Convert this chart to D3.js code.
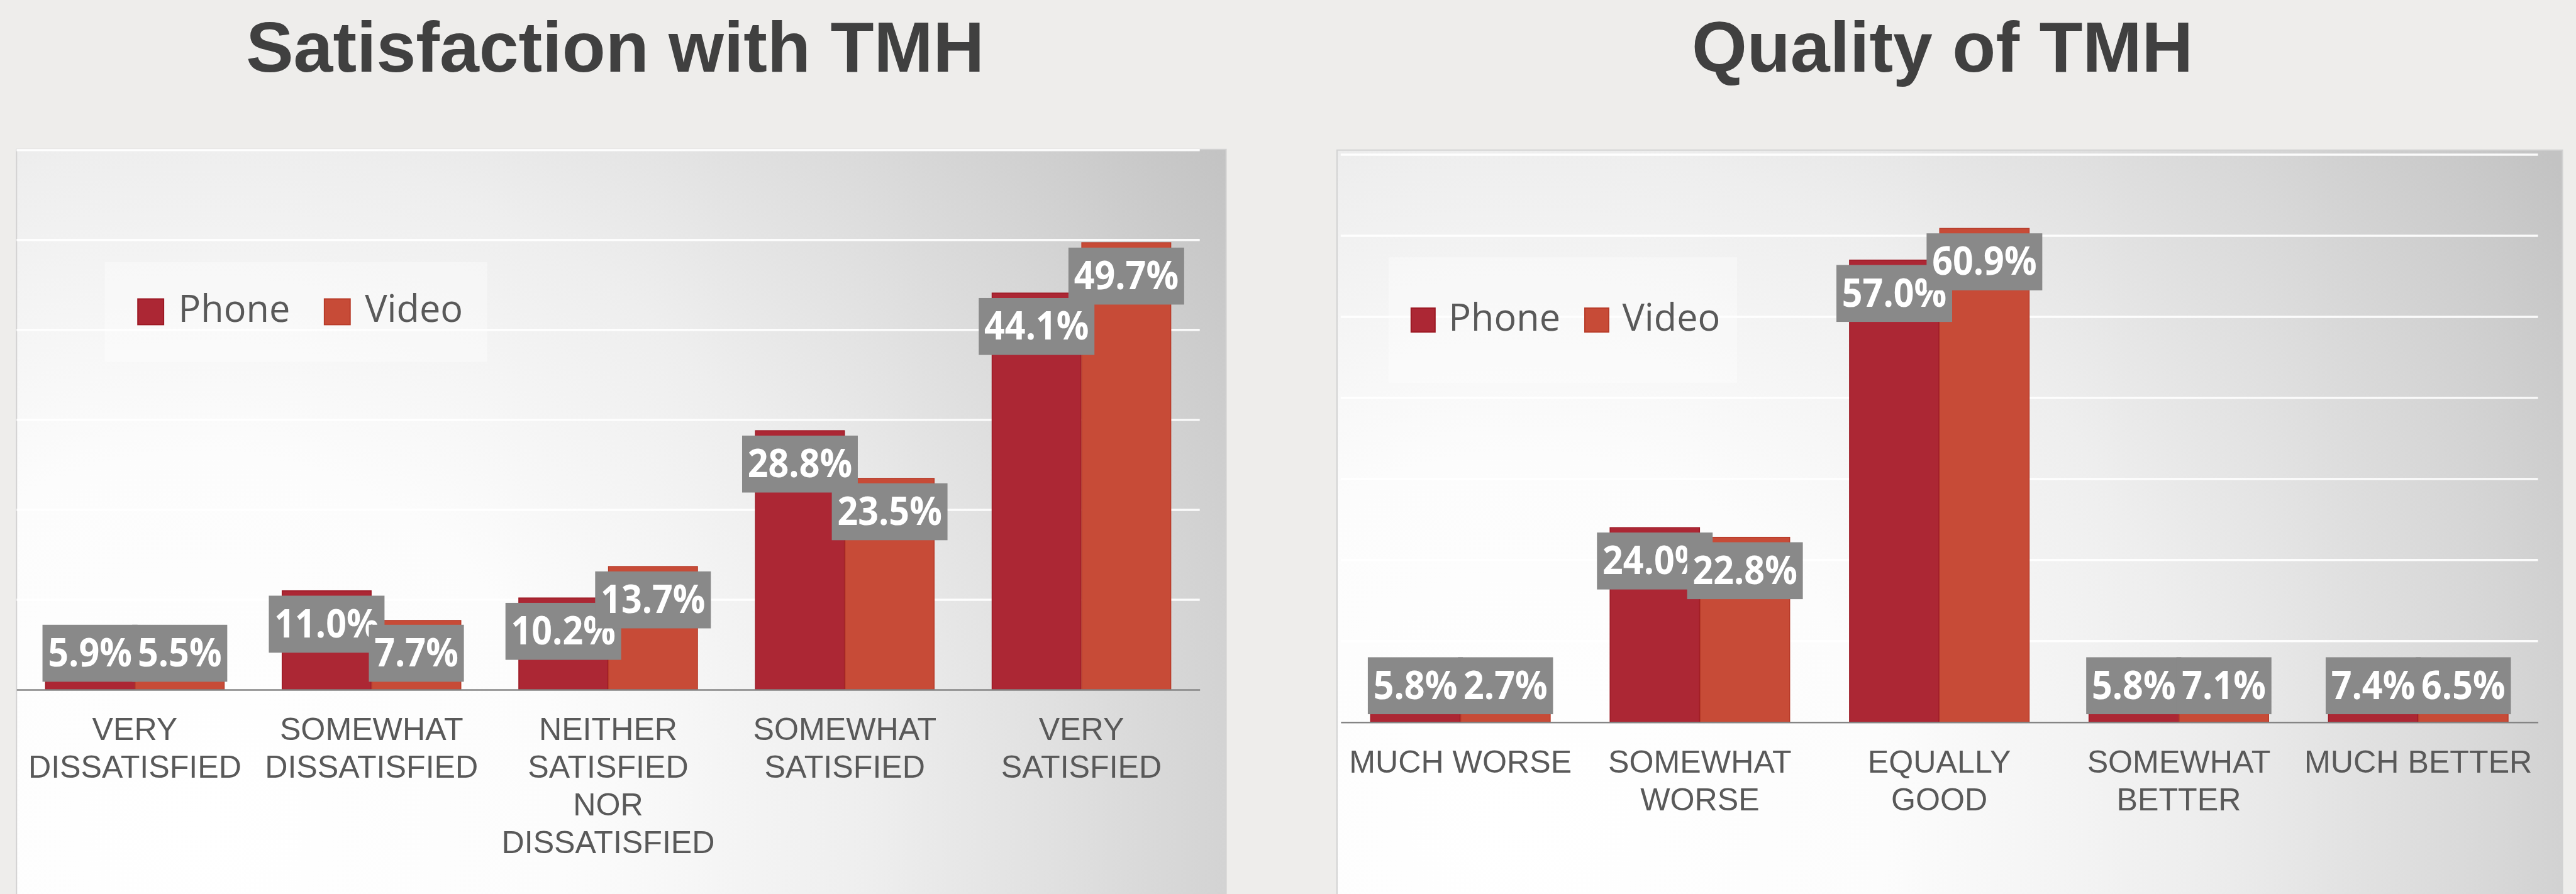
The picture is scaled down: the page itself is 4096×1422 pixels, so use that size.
<!DOCTYPE html>
<html>
<head>
<meta charset="utf-8">
<script src="https://cdn.jsdelivr.net/npm/d3@7"></script>
<style>
  html, body { margin: 0; padding: 0; background: #EEEDEB; overflow: hidden; }
  svg { display: block; }
</style>
</head>
<body>
<svg id="chart" width="4096" height="1422"></svg>
<script>
// ---- Data ----------------------------------------------------------------
const seriesNames = ["Phone", "Video"];

const satisfactionCategories = [
  "VERY\nDISSATISFIED",
  "SOMEWHAT\nDISSATISFIED",
  "NEITHER\nSATISFIED\nNOR\nDISSATISFIED",
  "SOMEWHAT\nSATISFIED",
  "VERY\nSATISFIED"
];
const satisfactionPhone = [5.9, 11.0, 10.2, 28.8, 44.1];
const satisfactionVideo = [5.5, 7.7, 13.7, 23.5, 49.7];
const satisfactionTicks = [0, 10, 20, 30, 40, 50, 60];

const qualityCategories = [
  "MUCH WORSE",
  "SOMEWHAT\nWORSE",
  "EQUALLY\nGOOD",
  "SOMEWHAT\nBETTER",
  "MUCH BETTER"
];
const qualityPhone = [5.8, 24.0, 57.0, 5.8, 7.4];
const qualityVideo = [2.7, 22.8, 60.9, 7.1, 6.5];
const qualityTicks = [0, 10, 20, 30, 40, 50, 60, 70];

// ---- Styling -------------------------------------------------------------
const seriesFill   = { Phone: "#AC2734", Video: "#C74B37" };
const seriesStroke = { Phone: "#9C1823", Video: "#B83B29" };
const textGray = "#595959";
const labelFont = "'Liberation Sans', Arial, sans-serif";
const legendFont = "'Open Sans', 'Noto Sans', sans-serif";
const fmt = d3.format(".1f");

const W = 4204, H = 1459;
const svg = d3.select("#chart");
const defs = svg.append("defs");
const root = svg.append("g").attr("transform", `scale(${4096 / W})`);

root.append("rect").attr("width", W).attr("height", H).attr("fill", "#EEEDEB");

const panels = [
  {
    id: "sat",
    title: "Satisfaction with TMH",
    categories: satisfactionCategories,
    phone: satisfactionPhone,
    video: satisfactionVideo,
    ticks: satisfactionTicks,
    frame: { x: 27, y: 244, w: 1974, h: 1230 },
    plot: { x0: 27, x1: 1958, top: 245, base: 1126 },
    groupPad: 0.245,
    titleX: 1004,
    legend: { x: 171, y: 428, w: 624, h: 163, sw: 42, swY: 488, textY: 526, startX: 225, textGap: 24, itemGap: 56 }
  },
  {
    id: "qual",
    title: "Quality of TMH",
    categories: qualityCategories,
    phone: qualityPhone,
    video: qualityVideo,
    ticks: qualityTicks,
    frame: { x: 2182, y: 245, w: 2000, h: 1230 },
    plot: { x0: 2188, x1: 4142, top: 252.5, base: 1179 },
    groupPad: 0.25,
    titleX: 3170,
    legend: { x: 2266, y: 420, w: 569, h: 205, sw: 39, swY: 503, textY: 540, startX: 2303, textGap: 22, itemGap: 40 }
  }
];

panels.forEach(drawPanel);

function drawPanel(p) {
  const g = root.append("g").attr("class", "panel-" + p.id);
  const f = p.frame;

  // soft radial shading of the chart card: white low-left, grey toward the right
  const grad = defs.append("radialGradient")
    .attr("id", "bg-" + p.id)
    .attr("gradientUnits", "userSpaceOnUse")
    .attr("cx", f.x + 0.15 * f.w).attr("cy", f.y + 0.9 * 1215)
    .attr("r", 2000);
  [[0, "#FFFFFF"], [0.3, "#FCFCFC"], [0.55, "#EEEEEE"], [0.8, "#D7D7D7"], [1, "#C3C3C3"]]
    .forEach(([o, c]) => grad.append("stop").attr("offset", o).attr("stop-color", c));

  // title
  g.append("text")
    .attr("x", p.titleX).attr("y", 117)
    .attr("text-anchor", "middle")
    .attr("font-family", labelFont)
    .attr("font-weight", "bold")
    .attr("font-size", 116)
    .attr("fill", "#404040")
    .text(p.title);

  // card
  g.append("rect")
    .attr("x", f.x).attr("y", f.y).attr("width", f.w).attr("height", f.h)
    .attr("fill", `url(#bg-${p.id})`)
    .attr("stroke", "#D2D2D2").attr("stroke-width", 2);

  // scales
  const x0 = d3.scaleBand()
    .domain(p.categories)
    .range([p.plot.x0, p.plot.x1])
    .paddingInner(p.groupPad)
    .paddingOuter(p.groupPad / 2);
  const x1 = d3.scaleBand()
    .domain(seriesNames)
    .range([0, x0.bandwidth()])
    .paddingInner(0.008);
  const y = d3.scaleLinear()
    .domain([0, d3.max(p.ticks)])
    .range([p.plot.base, p.plot.top]);

  // gridlines
  g.append("g").selectAll("line")
    .data(p.ticks.filter(t => t > 0))
    .join("line")
    .attr("x1", p.plot.x0).attr("x2", p.plot.x1)
    .attr("y1", d => y(d)).attr("y2", d => y(d))
    .attr("stroke", "#FFFFFF").attr("stroke-opacity", 0.9).attr("stroke-width", 3.5);

  // legend
  const L = p.legend;
  g.append("rect")
    .attr("x", L.x).attr("y", L.y).attr("width", L.w).attr("height", L.h)
    .attr("fill", "#FFFFFF").attr("fill-opacity", 0.35);
  let lx = L.startX;
  seriesNames.forEach(name => {
    g.append("rect")
      .attr("x", lx).attr("y", L.swY).attr("width", L.sw).attr("height", L.sw)
      .attr("fill", seriesFill[name]).attr("stroke", seriesStroke[name]).attr("stroke-width", 2);
    const t = g.append("text")
      .attr("x", lx + L.sw + L.textGap).attr("y", L.textY)
      .attr("font-family", legendFont).attr("font-size", 61)
      .attr("fill", textGray)
      .text(name);
    lx = lx + L.sw + L.textGap + t.node().getComputedTextLength() + L.itemGap;
  });

  // bars
  const rows = p.categories.map((c, i) => ({ cat: c, Phone: p.phone[i], Video: p.video[i] }));
  const groups = g.append("g").selectAll("g")
    .data(rows)
    .join("g")
    .attr("transform", d => `translate(${x0(d.cat)},0)`);
  groups.selectAll("rect")
    .data(d => seriesNames.map(s => ({ s, v: d[s] })))
    .join("rect")
    .attr("x", d => x1(d.s))
    .attr("width", x1.bandwidth())
    .attr("y", d => y(d.v))
    .attr("height", d => y(0) - y(d.v))
    .attr("fill", d => seriesFill[d.s])
    .attr("stroke", d => seriesStroke[d.s])
    .attr("stroke-width", 1.5);

  // category axis
  const axis = g.append("g")
    .attr("transform", `translate(0,${p.plot.base})`)
    .call(d3.axisBottom(x0).tickSize(0).tickSizeOuter(0));
  axis.select(".domain").attr("stroke", "#858585").attr("stroke-width", 2.5);
  axis.attr("font-family", labelFont).attr("font-size", 51.5);
  axis.selectAll(".tick text").each(function (d) {
    const t = d3.select(this);
    t.text(null).attr("y", 82).attr("dy", null).attr("fill", textGray);
    d.split("\n").forEach((line, i) => {
      t.append("tspan").attr("x", 0).attr("dy", i ? 61.5 : 0).text(line);
    });
  });

  // value labels: grey callouts just inside the bar top, phone first, video on top
  const boxH = 93, padX = 9, sx = 0.92;
  const labelLayer = g.append("g");
  seriesNames.forEach(s => {
    rows.forEach(r => {
      const v = r[s];
      const cx = x0(r.cat) + x1(s) + x1.bandwidth() / 2;
      const top = Math.min(y(v) + 8, p.plot.base - 13 - boxH);
      const lg = labelLayer.append("g");
      const box = lg.append("rect").attr("fill", "#898989");
      const t = lg.append("text")
        .attr("font-family", legendFont).attr("font-weight", 700)
        .attr("font-size", 64).attr("fill", "#FFFFFF")
        .attr("text-anchor", "middle")
        .attr("transform", `translate(${cx},${top + 68}) scale(${sx},1)`)
        .text(fmt(v) + "%");
      const tw = t.node().getComputedTextLength() * sx;
      box.attr("x", cx - tw / 2 - padX).attr("y", top)
        .attr("width", tw + 2 * padX).attr("height", boxH);
    });
  });
}
</script>
</body>
</html>
